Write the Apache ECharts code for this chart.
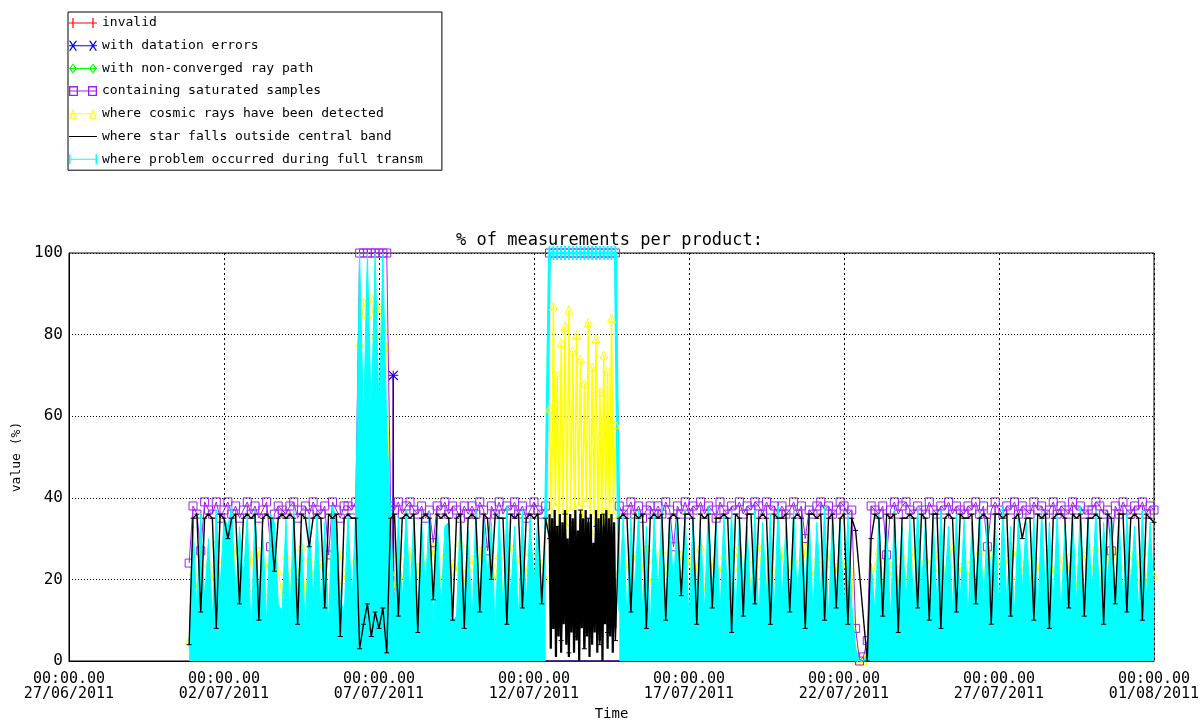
<!DOCTYPE html>
<html>
<head>
<meta charset="utf-8">
<title>% of measurements per product</title>
<script src="https://cdn.jsdelivr.net/npm/echarts@6/dist/echarts.min.js"></script>
<style>
  html, body { margin: 0; padding: 0; background: #fff; }
  #chart { width: 1204px; height: 726px; }
</style>
</head>
<body>
<div id="chart"></div>
<script>
// x is counted in days from 27/06/2011 00:00
var dayZero = Date.UTC(2011, 5, 27);
var xTicks = [0, 5, 10, 15, 20, 25, 30, 35];
var yTicks = [0, 20, 40, 60, 80, 100];

// regular products: one value every 3 h from 30/06 21:00
var mainStart = 3.875;
var mainStep = 0.125;

var cyanVals = [3,
  34,12,36,15,30,10,37,18,  35,33,38,14,33,20,36,6,  37,15,32,9,36,34,14,12,
  35,10,37,16,31,7,36,14,  36,13,34,9,38,35,16,11,  36,14,37,100,58,100,60,100,
  60,100,57,36,12,35,14,37,  16,36,10,34,18,37,8,35,  13,33,34,10,11,36,15,32,
  9,37,14,35,19,34,7,36,  12,38,16,33,10,37,14,35,  18,36,9,34,null,null,null,null,
  null,null,null,null,null,null,null,null,  null,null,null,null,null,null,14,36,
  10,35,17,37,12,33,8,36,  15,38,11,34,19,36,13,37,  9,35,16,32,12,38,17,34,
  11,36,14,37,8,35,18,33,  13,37,10,34,16,36,12,38,  15,33,9,37,14,35,17,36,
  12,34,16,38,10,36,13,35,  11,36,14,3,0,0,2,24,  12,36,15,34,10,37,16,33,
  14,35,11,38,17,34,9,36,  13,37,18,33,12,36,15,35,  10,34,16,37,13,35,19,36,
  12,38,14,33,11,36,17,34,  15,35,10,37,16,34,13,36,  11,33,18,36,14,38,12,35,
  16,37,13,34,17,36,10,35,  14,36,18,33,12,37,15,34,  16];

var blackVals = [4,
  35,36,12,35,36,35,8,36,  35,30,35,36,14,35,36,35,  36,10,35,36,35,22,35,36,
  35,36,35,9,36,35,28,35,  36,35,13,36,35,36,6,35,  36,35,35,3,9,14,6,12,
  8,13,2,35,36,11,35,36,  35,36,7,35,36,35,15,36,  35,36,35,10,35,36,8,35,
  36,35,12,36,35,20,36,35,  35,9,36,35,36,13,35,36,  35,36,14,35,30,8,33,5,
  36,2,34,6,37,3,35,9,  33,4,36,7,30,5,35,36,
  35,12,36,35,36,8,35,36,  35,36,10,35,36,35,16,36,  36,35,9,36,35,36,13,35,
  35,36,35,7,36,35,11,36,  36,14,35,36,35,9,36,35,  35,36,12,35,36,35,8,36,
  36,35,36,10,35,36,13,35,  36,9,35,32,null,null,0,30,  36,35,11,36,35,36,7,35,
  35,36,35,13,36,35,10,36,  36,8,35,36,35,12,36,35,  35,36,14,35,36,35,9,36,
  36,35,36,11,35,36,30,35,  35,10,36,35,36,8,35,36,  36,35,13,36,35,36,11,35,
  35,36,35,9,36,35,14,36,  36,12,35,36,35,10,36,35,  34];

var purpleVals = [24,
  38,36,27,39,37,36,39,35,  37,39,36,38,35,37,39,36,  38,35,37,39,28,36,38,37,
  36,38,39,35,37,38,36,39,  37,36,38,26,39,37,35,38,  38,37,39,100,100,100,100,100,
  100,100,100,38,37,39,36,38,  39,37,36,38,35,37,29,38,  37,39,36,38,37,35,38,36,
  38,36,39,37,27,38,36,39,  36,38,37,39,36,38,35,37,  39,37,36,38,100,100,100,100,
  100,100,100,100,100,100,100,100,  100,100,100,100,100,100,38,36,
  37,39,36,38,35,37,38,36,  38,36,39,37,28,38,36,39,  36,38,37,39,36,38,37,35,
  39,37,36,38,37,39,36,38,  37,39,38,36,39,37,38,36,  38,36,37,39,36,38,30,37,
  36,38,39,37,38,36,37,39,  38,36,37,8,0,1,5,38,  37,36,38,26,37,39,36,38,
  39,37,36,38,37,36,39,37,  36,38,37,39,36,38,37,36,  38,37,39,36,38,28,37,39,
  37,36,38,37,39,36,38,37,  36,39,37,38,36,37,39,36,  38,37,36,39,37,38,36,37,
  37,39,38,36,37,27,38,36,  39,37,36,38,37,39,36,38,  37];

var yellowVals = [5,
  22,18,27,15,24,20,29,17,  25,19,16,28,21,23,18,26,  20,27,17,24,19,29,22,16,
  26,18,23,20,28,15,25,21,  19,24,17,27,22,18,26,20,  23,17,25,78,88,85,89,80,
  87,82,77,22,18,26,20,24,  27,19,23,16,25,21,28,18,  20,26,17,24,22,29,19,23,
  25,18,27,21,16,24,20,26,  17,23,28,19,25,20,22,27,  21,18,24,20,null,null,null,null,
  null,null,null,null,null,null,null,null,  null,null,null,null,null,null,22,19,
  24,20,26,17,23,28,19,25,  18,27,21,24,16,22,26,20,  25,19,23,28,17,21,24,18,
  22,26,18,20,27,23,17,25,  19,24,28,21,18,26,22,20,  27,17,23,25,20,19,28,22,
  21,25,18,24,26,20,23,17,  24,19,22,3,0,0,2,20,  23,27,18,25,21,24,19,26,
  20,24,27,18,22,25,17,23,  26,19,22,24,28,20,23,18,  21,25,18,27,19,23,26,22,
  24,18,25,21,27,19,22,25,  19,26,22,24,17,28,21,23,  25,20,23,27,18,24,26,19,
  22,28,19,23,25,21,27,24,  18,23,26,20,24,27,19,22,  21];

// 12/07 12:00 - 14/07 15:00: dense products
var cyanTopStart = 15.375, cyanTopStep = 0.125;
var cyanTopVals = [34,100,100,100,100,100,100,100,100,100,100,100,100,100,100,100,100,100,100,14];

var yellowBurstStart = 15.5, yellowBurstStep = 0.0625;
var yellowBurstVals = [62,34,87,38,70,32,78,36,82,33,86,37,76,31,80,38,74,34,68,39,
  83,32,72,36,79,35,66,33,75,37,71,31,84,36,58];

var blackBurstStart = 15.5, blackBurstStep = 1 / 24;
var blackBurstVals = [36,3,35,8,37,1,33,6,36,2,34,9,37,4,30,1,36,7,35,2,
  37,5,32,0,36,8,35,3,37,6,34,1,36,4,29,7,37,2,35,5,36,0,33,9,37,3,35,6,36,2,34,8];

// [day, %]
var redPts = [[3.875, 0], [10.44, 0], [10.46, 70], [10.48, 0], [35, 0]];
var bluePts = [[3.875, 0], [10.44, 0], [10.46, 70], [10.48, 0], [35, 0]];
var greenPts = [[3.875, 0], [35, 0]];

var names = ['invalid', 'with datation errors', 'with non-converged ray path',
  'containing saturated samples', 'where cosmic rays have been detected',
  'where star falls outside central band', 'where problem occurred during full transm'];
var colors = ['#ff0000', '#0000ff', '#00ff00', '#a020f0', '#ffff00', '#000000', '#00ffff'];

var LINE = 'M0,4.5H28V5.5H0Z';
var icons = [
  LINE + 'M3.4,0H4.6V10H3.4Z M23.4,0H24.6V10H23.4Z',
  LINE + 'M0,0L1.5,0L8,10L6.5,10Z M6.5,0L8,0L1.5,10L0,10Z M20,0L21.5,0L28,10L26.5,10Z M26.5,0L28,0L21.5,10L20,10Z',
  LINE + 'M4,0L8,5L4,10L0,5Z M4,1.6L1.6,5L4,8.4L6.4,5Z M24,0L28,5L24,10L20,5Z M24,1.6L21.6,5L24,8.4L26.4,5Z',
  LINE + 'M0,0H9V10H0Z M1.3,1.3V8.7H7.7V1.3Z M19,0H28V10H19Z M20.3,1.3V8.7H26.7V1.3Z',
  LINE + 'M4,0L8,10L0,10Z M4,2.8L1.7,8.9L6.3,8.9Z M24,0L28,10L20,10Z M24,2.8L21.7,8.9L26.3,8.9Z',
  LINE + 'M0,0h0.01v0.01h-0.01Z M27.99,9.99h0.01v0.01h-0.01Z',
  LINE + 'M0,0H1.5V10H0Z M26.5,0H28V10H26.5Z'
];

var FONT = 'DejaVu Sans Mono';

function onGrid(vals, start, step) {
  return vals.map(function (v, i) { return [start + i * step, v]; });
}
function markSpikes(pts) {
  return pts.map(function (p) {
    return p[1] > 0 ? { value: p } : { value: p, symbol: 'none' };
  });
}
function dateLabel(d) {
  var t = new Date(dayZero + d * 86400000);
  var dd = ('0' + t.getUTCDate()).slice(-2);
  var mm = ('0' + (t.getUTCMonth() + 1)).slice(-2);
  return '00:00.00\n' + dd + '/' + mm + '/' + t.getUTCFullYear();
}
function hollow(c) {
  return { color: 'rgba(0,0,0,0)', borderColor: c, borderWidth: 1 };
}

var chart = echarts.init(document.getElementById('chart'));

var option = {
  animation: false,
  backgroundColor: '#fff',
  title: {
    text: '% of measurements per product:',
    left: 456,
    top: 232,
    padding: 0,
    textStyle: { fontFamily: FONT, fontSize: 17, fontWeight: 'normal', color: '#000' }
  },
  legend: {
    orient: 'vertical',
    left: 68,
    top: 12,
    padding: [4, 19, 4, 1],
    itemGap: 8.7,
    itemWidth: 28,
    itemHeight: 10,
    itemTextGap: 3,
    selectedMode: false,
    borderColor: '#000',
    borderWidth: 1,
    textStyle: { fontFamily: FONT, fontSize: 13, lineHeight: 14, color: '#000' },
    data: names.map(function (n, i) {
      return { name: n, icon: 'path://' + icons[i],
        itemStyle: { color: colors[i], borderWidth: 0 } };
    })
  },
  grid: {
    left: 69, right: 50, top: 253, bottom: 60,
    show: true, borderColor: '#000', borderWidth: 1
  },
  xAxis: {
    type: 'value',
    min: xTicks[0], max: xTicks[xTicks.length - 1], interval: 5,
    name: 'Time', nameLocation: 'middle', nameGap: 46,
    nameTextStyle: { fontFamily: FONT, fontSize: 14, color: '#000' },
    axisLine: { lineStyle: { color: '#000', width: 1 } },
    axisTick: { show: false },
    axisLabel: {
      margin: 11, fontFamily: FONT, fontSize: 15, lineHeight: 15, color: '#000',
      formatter: dateLabel
    },
    splitLine: { show: true, lineStyle: { color: '#000', width: 1, type: [2, 3] } }
  },
  yAxis: {
    type: 'value',
    min: yTicks[0], max: yTicks[yTicks.length - 1], interval: 20,
    name: 'value (%)', nameLocation: 'middle', nameGap: 42,
    nameTextStyle: { fontFamily: FONT, fontSize: 13, color: '#000' },
    axisLine: { show: true, lineStyle: { color: '#000', width: 1 } },
    axisTick: { show: false },
    axisLabel: { margin: 6, fontFamily: FONT, fontSize: 16, color: '#000' },
    splitLine: { show: true, lineStyle: { color: '#000', width: 1, type: [1, 2] } }
  },
  series: [
    {
      name: names[2], type: 'line', z: 2, data: greenPts, showSymbol: false,
      lineStyle: { color: colors[2], width: 1 }, itemStyle: { color: colors[2] }
    },
    {
      name: names[0], type: 'line', z: 3, data: markSpikes(redPts),
      symbol: 'path://M0,4.4H10V5.6H0Z M4.4,0H5.6V10H4.4Z', symbolSize: 10,
      lineStyle: { color: colors[0], width: 1 }, itemStyle: { color: colors[0] }
    },
    {
      name: names[1], type: 'line', z: 4, data: markSpikes(bluePts),
      symbol: 'path://M0,0.8L0.8,0L10,9.2L9.2,10Z M9.2,0L10,0.8L0.8,10L0,9.2Z', symbolSize: 10,
      lineStyle: { color: colors[1], width: 1 }, itemStyle: { color: colors[1] }
    },
    {
      name: names[4], type: 'line', z: 5, data: onGrid(yellowVals, mainStart, mainStep),
      symbol: 'triangle', symbolSize: 8, connectNulls: false,
      lineStyle: { color: colors[4], width: 1 }, itemStyle: hollow(colors[4])
    },
    {
      name: names[3], type: 'line', z: 6, data: onGrid(purpleVals, mainStart, mainStep),
      symbol: 'rect', symbolSize: 8,
      lineStyle: { color: colors[3], width: 1 }, itemStyle: hollow(colors[3])
    },
    {
      name: names[6], type: 'line', z: 7, data: onGrid(cyanVals, mainStart, mainStep),
      showSymbol: false, connectNulls: false,
      lineStyle: { color: colors[6], width: 1 }, itemStyle: { color: colors[6] },
      areaStyle: { color: colors[6], opacity: 1 }
    },
    {
      name: names[6], type: 'line', z: 7, data: onGrid(cyanTopVals, cyanTopStart, cyanTopStep),
      symbol: 'rect', symbolSize: [2, 14],
      lineStyle: { color: colors[6], width: 3 }, itemStyle: { color: colors[6] }
    },
    {
      name: names[4], type: 'line', z: 8, data: onGrid(yellowBurstVals, yellowBurstStart, yellowBurstStep),
      symbol: 'triangle', symbolSize: 8,
      lineStyle: { color: colors[4], width: 1.5 }, itemStyle: hollow(colors[4])
    },
    {
      name: names[5], type: 'line', z: 9, data: onGrid(blackVals, mainStart, mainStep),
      symbol: 'rect', symbolSize: [5, 1], connectNulls: true,
      lineStyle: { color: colors[5], width: 1.4 }, itemStyle: { color: colors[5] }
    },
    {
      name: names[5], type: 'line', z: 9, data: onGrid(blackBurstVals, blackBurstStart, blackBurstStep),
      showSymbol: false,
      lineStyle: { color: colors[5], width: 2.2 }, itemStyle: { color: colors[5] }
    }
  ]
};

chart.setOption(option);
</script>
</body>
</html>
